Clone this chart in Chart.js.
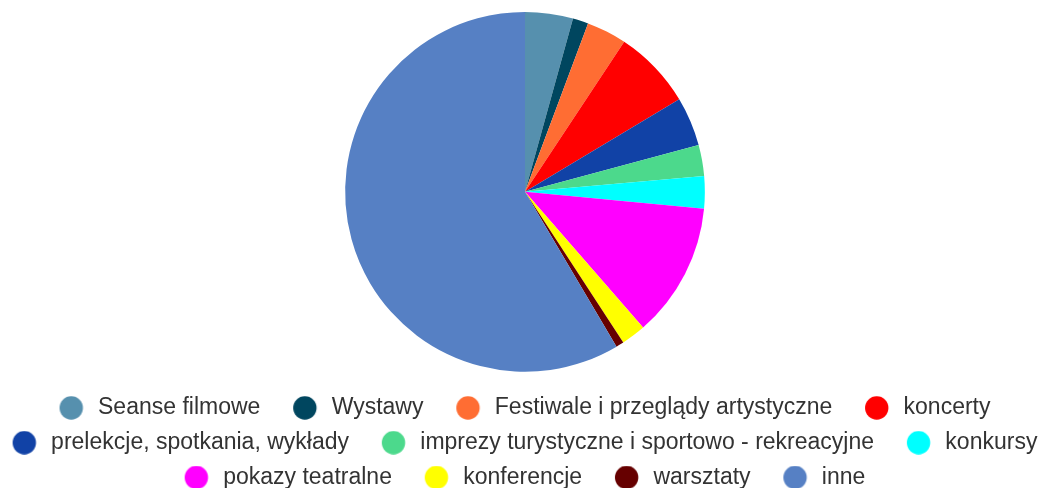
<!DOCTYPE html>
<html>
<head>
<meta charset="utf-8">
<script src="https://cdn.jsdelivr.net/npm/chart.js@4.4.0/dist/chart.umd.min.js"></script>
<style>
  html, body { margin: 0; padding: 0; background: #fff; overflow: hidden; }
  #chart { position: absolute; left: -25px; top: 0; }
</style>
</head>
<body>
<canvas id="chart" width="1100" height="499"></canvas>
<script>
const categories = [
    'Seanse filmowe',
    'Wystawy',
    'Festiwale i przeglądy artystyczne',
    'koncerty',
    'prelekcje, spotkania, wykłady',
    'imprezy turystyczne i sportowo - rekreacyjne',
    'konkursy',
    'pokazy teatralne',
    'konferencje',
    'warsztaty',
    'inne'
];
const shares = [4.3, 1.4, 3.6, 7.1, 4.4, 2.8, 2.9, 12.1, 2.2, 0.7, 58.5];
const colors = [
    '#5690ae', '#00465f', '#ff6d33', '#ff0000', '#1142a6', '#4cd98c',
    '#00ffff', '#ff00ff', '#ffff00', '#660000', '#5680c4'
];

// legend dots: small canvases with some space on the left of the circle
function makeDot(color) {
    const c = document.createElement('canvas');
    c.width = 48;
    c.height = 24;
    const g = c.getContext('2d');
    g.fillStyle = color;
    g.beginPath();
    g.arc(32.7, 12, 11.7, 0, Math.PI * 2);
    g.fill();
    return c;
}
const dots = colors.map(makeDot);

const shiftLegend = {
    id: 'shiftLegend',
    afterLayout(chart) {
        chart.legend.left -= 10.5;
        chart.legend.right -= 10.5;
    }
};

const ctx = document.getElementById('chart').getContext('2d');
new Chart(ctx, {
    type: 'pie',
    data: {
        labels: categories,
        datasets: [{
            data: shares,
            backgroundColor: colors,
            borderWidth: 0,
            hoverOffset: 0
        }]
    },
    options: {
        responsive: false,
        animation: false,
        layout: { padding: { top: 12, bottom: 0, left: 0, right: 0 } },
        plugins: {
            tooltip: { enabled: false },
            legend: {
                position: 'bottom',
                title: {
                    display: true,
                    text: '',
                    font: { size: 10, lineHeight: 1 },
                    padding: { top: 2.9, bottom: 0 }
                },
                labels: {
                    usePointStyle: true,
                    pointStyleWidth: 48,
                    padding: 11.8,
                    color: '#333',
                    font: { family: '"Liberation Sans", Arial, sans-serif', size: 23 },
                    generateLabels: chart => chart.data.labels.map((text, i) => ({
                        text: text,
                        fillStyle: colors[i],
                        strokeStyle: colors[i],
                        lineWidth: 0,
                        pointStyle: dots[i],
                        fontColor: '#333',
                        hidden: !chart.getDataVisibility(i),
                        index: i
                    }))
                }
            }
        }
    },
    plugins: [shiftLegend]
});
</script>
</body>
</html>
